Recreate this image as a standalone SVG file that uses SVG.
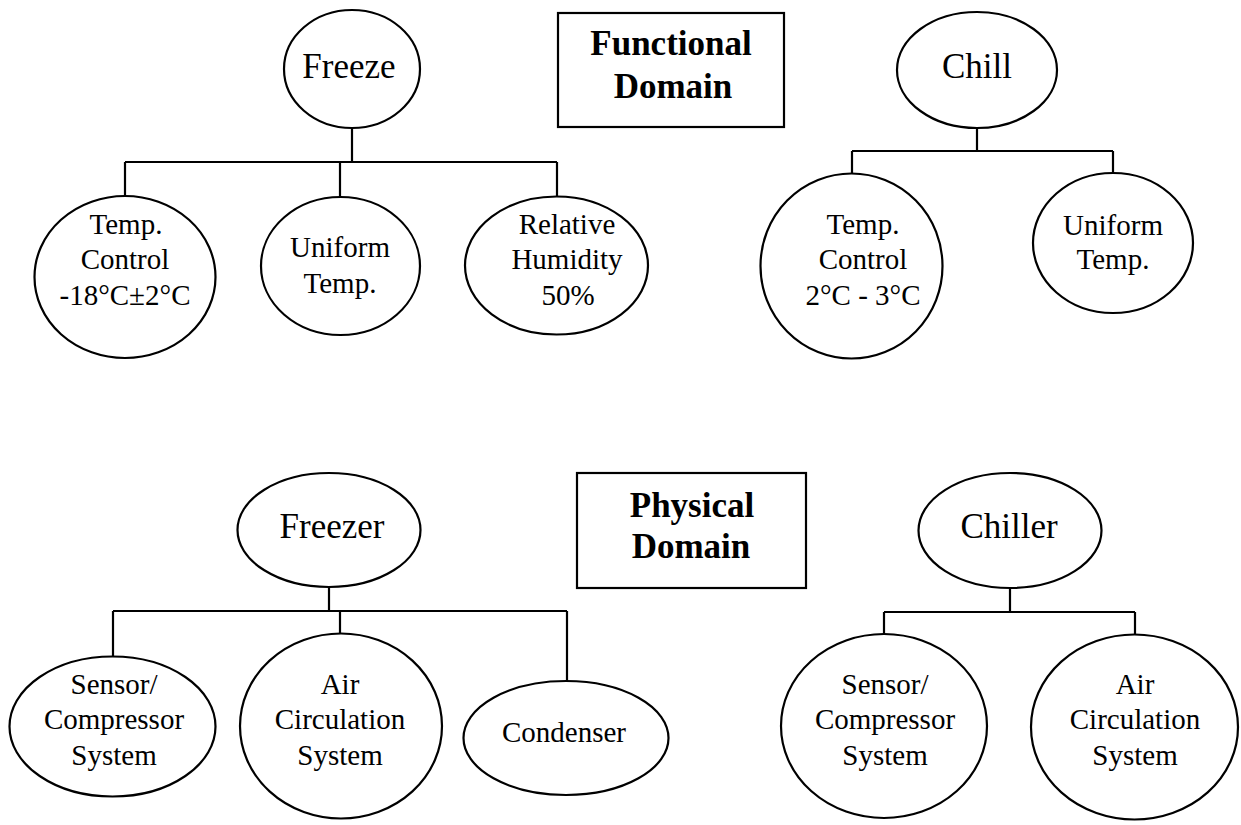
<svg xmlns="http://www.w3.org/2000/svg" width="1241" height="825" viewBox="0 0 1241 825">
<style>
.n{fill:#fff;stroke:#000;stroke-width:2.2}
.c{fill:none;stroke:#000;stroke-width:2.2}
.t{font-family:"Times New Roman","Liberation Serif",Tinos,"DejaVu Serif",serif;font-size:29px;font-weight:400;font-style:normal;fill:#000;text-anchor:middle}
.big{font-size:35px}
.b{font-weight:700;font-size:35px}
</style>
<rect width="1241" height="825" fill="#fff"/>
<g id="connectors">
<path class="c" d="M352 128V162M125 162H557M125 162V197M340 162V197M557 162V197"/>
<path class="c" d="M977 128V151M852 151H1113M852 151V173M1113 151V173"/>
<path class="c" d="M329 587V611M113 611H567M113 611V657M340 611V633M567 611V681"/>
<path class="c" d="M1010 588V612M884 612H1135M884 612V634M1135 612V634"/>
</g>
<g id="functional-domain">
<rect class="n" x="558" y="13" width="226" height="114"/>
<text class="t b" x="671" y="55">Functional</text>
<text class="t b" x="673" y="98">Domain</text>
</g>
<g id="freeze">
<ellipse class="n" cx="352" cy="69" rx="68" ry="59"/>
<text class="t big" x="349" y="78">Freeze</text>
</g>
<g id="freeze-temp">
<ellipse class="n" cx="125" cy="277" rx="90.5" ry="81"/>
<text class="t" x="126" y="234">Temp.</text>
<text class="t" x="125" y="269">Control</text>
<text class="t" x="125" y="305">-18°C±2°C</text>
</g>
<g id="freeze-uniform">
<ellipse class="n" cx="340.5" cy="266" rx="79.5" ry="69"/>
<text class="t" x="340" y="257">Uniform</text>
<text class="t" x="340" y="293">Temp.</text>
</g>
<g id="freeze-humidity">
<ellipse class="n" cx="556.5" cy="265.5" rx="91.5" ry="69"/>
<text class="t" x="567" y="234">Relative</text>
<text class="t" x="567" y="269">Humidity</text>
<text class="t" x="568" y="305">50%</text>
</g>
<g id="chill">
<ellipse class="n" cx="977" cy="70" rx="80" ry="58"/>
<text class="t big" x="977" y="78">Chill</text>
</g>
<g id="chill-temp">
<ellipse class="n" cx="851.5" cy="266" rx="91" ry="92.5"/>
<text class="t" x="863" y="234">Temp.</text>
<text class="t" x="863" y="269">Control</text>
<text class="t" x="863" y="305">2°C - 3°C</text>
</g>
<g id="chill-uniform">
<ellipse class="n" cx="1113" cy="243" rx="80" ry="70"/>
<text class="t" x="1113" y="235">Uniform</text>
<text class="t" x="1113" y="269">Temp.</text>
</g>
<g id="physical-domain">
<rect class="n" x="577" y="473" width="229" height="115"/>
<text class="t b" x="692" y="517">Physical</text>
<text class="t b" x="691" y="558">Domain</text>
</g>
<g id="freezer">
<ellipse class="n" cx="329" cy="530" rx="91.5" ry="57"/>
<text class="t big" x="332" y="538">Freezer</text>
</g>
<g id="freezer-sensor">
<ellipse class="n" cx="112.5" cy="726.5" rx="103" ry="70"/>
<text class="t" x="114" y="694">Sensor/</text>
<text class="t" x="114" y="729">Compressor</text>
<text class="t" x="114" y="765">System</text>
</g>
<g id="freezer-air">
<ellipse class="n" cx="341" cy="726" rx="101" ry="92.5"/>
<text class="t" x="340" y="694">Air</text>
<text class="t" x="340" y="729">Circulation</text>
<text class="t" x="340" y="765">System</text>
</g>
<g id="freezer-condenser">
<ellipse class="n" cx="566" cy="738" rx="102.5" ry="57"/>
<text class="t" x="564" y="742">Condenser</text>
</g>
<g id="chiller">
<ellipse class="n" cx="1010" cy="530.5" rx="91.5" ry="57.5"/>
<text class="t big" x="1009" y="538">Chiller</text>
</g>
<g id="chiller-sensor">
<ellipse class="n" cx="884" cy="726" rx="103" ry="92"/>
<text class="t" x="885" y="694">Sensor/</text>
<text class="t" x="885" y="729">Compressor</text>
<text class="t" x="885" y="765">System</text>
</g>
<g id="chiller-air">
<ellipse class="n" cx="1134.5" cy="727" rx="103.5" ry="92.5"/>
<text class="t" x="1135" y="694">Air</text>
<text class="t" x="1135" y="729">Circulation</text>
<text class="t" x="1135" y="765">System</text>
</g>
</svg>
